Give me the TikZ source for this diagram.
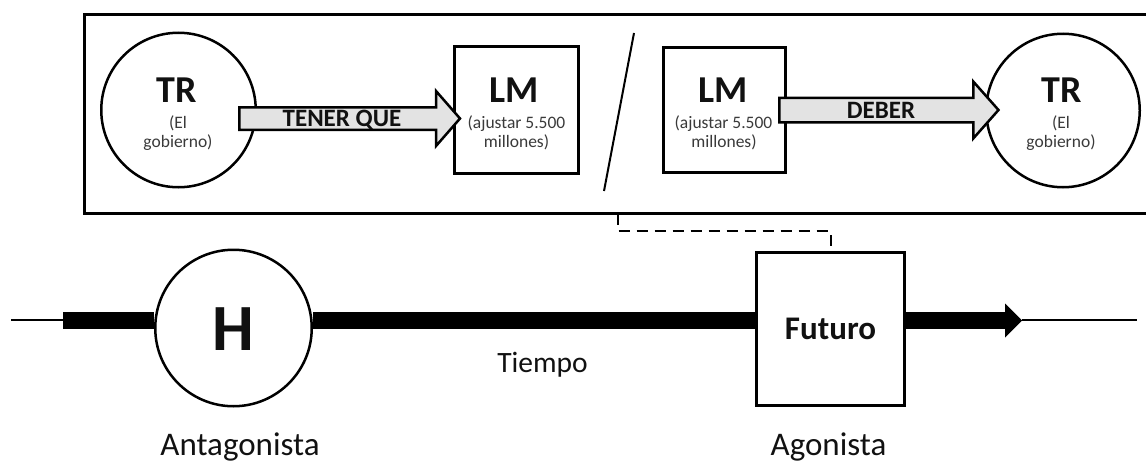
\documentclass[tikz,border=0pt]{standalone}
\usepackage{fontspec}
\setmainfont{Carlito}
\usetikzlibrary{calc}
\definecolor{arrowgray}{HTML}{E3E3E3}
\definecolor{subgray}{HTML}{3A3A3A}
\definecolor{ink}{HTML}{111111}
\newcommand\myfs[1]{\fontsize{#1pt}{#1pt}\selectfont}
\begin{document}
\begin{tikzpicture}[x=1pt,y=-1pt,
  framebox/.style={draw,line width=2.5pt,inner sep=0pt,minimum width=1066.75pt,minimum height=199pt},
  circ/.style={circle,draw,fill=white,line width=2.5pt,inner sep=0pt},
  sq/.style={rectangle,draw,fill=white,line width=3pt,inner sep=0pt},
  blockarrow/.style={draw,fill=arrowgray,line width=2.5pt,line join=miter},
  arrowtext/.style={font=\myfs{25}\bfseries,text=ink,inner sep=0pt,anchor=base},
  bigtext/.style={font=\myfs{38}\bfseries,text=ink,inner sep=0pt,anchor=base},
  subtext/.style={font=\myfs{17.5},text=subgray,inner sep=0pt,anchor=base},
  labeltext/.style={font=\myfs{33},text=ink,inner sep=0pt,anchor=base},
  slashline/.style={line width=2pt},
  dashconn/.style={line width=2pt,dash pattern=on 11pt off 7pt},
  bar/.style={line width=17pt},
  thinline/.style={line width=2pt}
]
\useasboundingbox (0,0) rectangle (1146,463);

% top frame
\node[framebox,anchor=north west] (frame) at (83.25,13.25) {};

% left pair
\node[circ,minimum size=154.5pt] (trL) at (178.5,110) {};
\node[sq,minimum width=124pt,minimum height=127pt] (lmL) at (516.5,110) {};
\node[bigtext] (trLt) at (177,102) {TR};
\node[subtext] (trLs1) at (178,128) {(El};
\node[subtext] (trLs2) at (178,147) {gobierno)};
\node[bigtext] (lmLt) at (514,102) {LM};
\node[subtext] (lmLs1) at (516.5,128) {(ajustar 5.500};
\node[subtext] (lmLs2) at (516.5,147) {millones)};

% slash
\coordinate (s1) at (634,33);
\coordinate (s2) at (604,191);
\draw[slashline] (s1) -- (s2);

% right pair
\node[sq,minimum width=122pt,minimum height=125pt] (lmR) at (724.5,110) {};
\node[circ,minimum size=153.5pt] (trR) at (1063,110.5) {};
\node[bigtext] (lmRt) at (723,102) {LM};
\node[subtext] (lmRs1) at (723.5,128) {(ajustar 5.500};
\node[subtext] (lmRs2) at (724,147.5) {millones)};
\node[bigtext] (trRt) at (1061.5,102) {TR};
\node[subtext] (trRs1) at (1061,128.5) {(El};
\node[subtext] (trRs2) at (1061,147.5) {gobierno)};

% block arrows
\coordinate (a1) at (239.25,118.5);
\draw[blockarrow] (a1) ++(0,-11.25) -- ++(196.75,0) -- ++(0,-16.25) -- ++(24,27.5)
  -- ++(-24,27.5) -- ++(0,-16.25) -- ++(-196.75,0) -- cycle;
\node[arrowtext] (a1t) at (342,126.5) {TENER QUE};

\coordinate (a2) at (779.25,110);
\draw[blockarrow] (a2) ++(0,-12.25) -- ++(194,0) -- ++(0,-16.25) -- ++(25.25,28.5)
  -- ++(-25.25,28.5) -- ++(0,-16.25) -- ++(-194,0) -- cycle;
\node[arrowtext] (a2t) at (881,118) {DEBER};

% timeline
\node[circ,minimum size=156.5pt] (hc) at (233.5,328) {};
\node[sq,minimum width=148pt,minimum height=153pt] (fut) at (830.5,329) {};
\coordinate (l0) at (11,319.5);
\coordinate (l1) at (63,320.5);
\coordinate (hd) at (1005,320.5);
\coordinate (tip) at (1022,320.5);
\coordinate (l3) at (1137,319.5);
\draw[thinline] (l0) -- (l1 |- l0);
\draw[bar] (l1) -- (l1 -| hc.west);
\draw[bar] (l1 -| hc.east) -- (l1 -| fut.west);
\draw[bar] (l1 -| fut.east) -- (hd);
\fill (hd) ++(0,-17) -- (tip) -- ($(hd)+(0,17)$) -- cycle;
\draw[thinline] (tip |- l3) -- (l3);

\node[font=\myfs{66}\bfseries,text=ink,inner sep=0pt,anchor=base] (ht) at (233,350) {H};
\node[font=\myfs{33}\bfseries,text=ink,inner sep=0pt,anchor=base] (futt) at (830.5,339) {Futuro};
\node[font=\myfs{29.5},text=ink,inner sep=0pt,anchor=base] (tiempo) at (542.5,372) {Tiempo};
\node[labeltext] (ant) at (240,455) {Antagonista};
\node[labeltext] (ago) at (828.5,455) {Agonista};

% dashed link
\coordinate (d0) at (618,213.5);
\draw[dashconn] (d0) -- ++(0,17.5) -| (fut.north);
\end{tikzpicture}
\end{document}
